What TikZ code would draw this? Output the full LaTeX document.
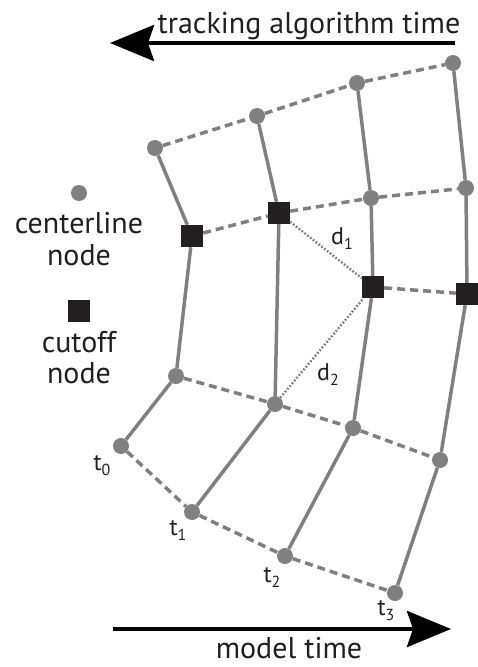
\documentclass[tikz,border=0pt]{standalone}
\usepackage{fontspec}
\setmainfont{PT Sans}
\usetikzlibrary{arrows.meta}
\definecolor{lg}{RGB}{128,128,130}
\definecolor{sq}{RGB}{35,31,32}
\newcommand{\sbs}[1]{{\fontsize{16}{16}\selectfont\raisebox{-5pt}{#1}}}
\begin{document}
\begin{tikzpicture}[x=1pt,y=-1pt,
  cn/.style={circle,fill=lg,inner sep=0pt,minimum size=16pt},
  co/.style={rectangle,fill=sq,inner sep=0pt,minimum size=22pt},
  sedge/.style={draw=lg,line width=3.5pt},
  dedge/.style={draw=lg,line width=3.5pt,dash pattern=on 8pt off 5pt},
  dotedge/.style={draw=lg,line width=2.4pt,dash pattern=on 1.8pt off 1.8pt},
  big/.style={font=\fontsize{30}{32}\selectfont,text=sq,inner sep=0pt,anchor=base},
  small/.style={font=\fontsize{24}{26}\selectfont,text=sq,inner sep=0pt,anchor=base},
  tarrow/.style={line width=4pt,draw=black,-{Stealth[length=44pt,width=36pt,inset=6pt]}}]
\useasboundingbox (0,0) rectangle (478,667);
% column 0
\node[cn] (a0) at (155,148) {};
\node[co] (a1) at (192,236) {};
\node[cn] (a2) at (176,376) {};
\node[cn] (a3) at (121,446) {};
% column 1
\node[cn] (b0) at (257,116) {};
\node[co] (b1) at (279,213) {};
\node[cn] (b2) at (275,404) {};
\node[cn] (b3) at (192,512) {};
% column 2
\node[cn] (c0) at (357,83) {};
\node[cn] (c1) at (371,198) {};
\node[co] (c2) at (373,287) {};
\node[cn] (c3) at (353,428) {};
\node[cn] (c4) at (285,556) {};
% column 3
\node[cn] (e0) at (453,63) {};
\node[cn] (e1) at (466,188) {};
\node[co] (e2) at (467,294) {};
\node[cn] (e3) at (440,460) {};
\node[cn] (e4) at (395,593) {};
% solid column lines
\draw[sedge] (a0) -- (a1) -- (a2) -- (a3);
\draw[sedge] (b0) -- (b1) -- (b2) -- (b3);
\draw[sedge] (c0) -- (c1) -- (c2) -- (c3) -- (c4);
\draw[sedge] (e0) -- (e1) -- (e2) -- (e3) -- (e4);
% dashed rows
\draw[dedge] (a0) -- (b0) -- (c0) -- (e0);
\draw[dedge] (a1) -- (b1) -- (c1) -- (e1);
\draw[dedge] (c2) -- (e2);
\draw[dedge] (a2) -- (b2) -- (c3) -- (e3);
\draw[dedge] (a3) -- (b3) -- (c4) -- (e4);
% dotted distances
\draw[dotedge] (b1) -- (c2);
\draw[dotedge] (b2) -- (c2);
\node[small] (d1) at (342,244) {d\sbs{1}};
\node[small] (d2) at (328,380) {d\sbs{2}};
% time labels
\node[small] (t0) at (102,470) {t\sbs{0}};
\node[small] (t1) at (178,535) {t\sbs{1}};
\node[small] (t2) at (272,582) {t\sbs{2}};
\node[small] (t3) at (386,615) {t\sbs{3}};
% legend
\node[cn] (lc) at (79,193) {};
\node[big] (lct1) at (79,233) {centerline};
\node[big] (lct2) at (79,265) {node};
\node[co] (ls) at (79,311) {};
\node[big] (lst1) at (79,352) {cutoff};
\node[big] (lst2) at (79,383) {node};
% arrows
\coordinate (ta1) at (455,43);
\coordinate (ta2) at (110,43);
\draw[tarrow] (ta1) -- (ta2);
\node[big] (tt) at (309,33) {tracking algorithm time};
\coordinate (ma1) at (113,629);
\coordinate (ma2) at (451,629);
\draw[tarrow] (ma1) -- (ma2);
\node[big] (mt) at (289,658) {model time};
\end{tikzpicture}
\end{document}
